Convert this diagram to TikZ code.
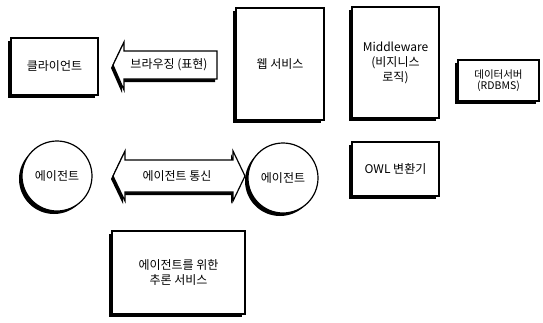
\documentclass[tikz,border=0pt]{standalone}
\usepackage{fontspec}
\setmainfont{Noto Sans CJK KR}
\usetikzlibrary{shadows}
\begin{document}
\begin{tikzpicture}[x=1pt,y=-1pt,
  shd/.style={drop shadow={shadow xshift=-3pt, shadow yshift=-3pt, opacity=1, fill=black}},
  box/.style={draw=black, line width=1.2pt, fill=white, shd, inner sep=0pt, align=center,
    font=\fontsize{12}{15}\selectfont},
  ball/.style={box, circle, minimum size=70pt},
  arr/.style={draw=black, line width=1.2pt, fill=white, line join=miter},
  lbl/.style={inner sep=0pt, align=center, font=\fontsize{12}{15}\selectfont}]
\useasboundingbox (0,0) rectangle (543,322);
% boxes
\node[box, minimum width=87pt, minimum height=57pt] (client) at (54.5,66.5) {클라이언트};
\node[box, minimum width=88pt, minimum height=112pt] (web) at (280,64) {웹 서비스};
\node[box, minimum width=87pt, minimum height=111pt] (mw) at (395.5,62.5) {Middleware\\(비지니스\\로직)};
\node[box, minimum width=81pt, minimum height=41pt, font=\fontsize{10.5}{11.5}\selectfont] (db) at (498.5,80.5) {데이터서버\\(RDBMS)};
\node[box, minimum width=87pt, minimum height=54pt] (owl) at (395.5,169) {OWL 변환기};
\node[box, minimum width=133pt, minimum height=83pt] (infer) at (178.5,272.5) {에이전트를 위한\\추론 서비스};
% circles
\node[ball] (agL) at (57,176) {에이전트};
\node[ball] (agR) at (283,178) {에이전트};
% browsing arrow (points left)
\fill[black, xshift=-2pt, yshift=-3pt] (113,65) -- (124,42) -- (124,51) -- (217,51) -- (217,79) -- (124,79) -- (124,90) -- cycle;
\draw[arr] (113,65) -- (124,42) -- (124,51) -- (217,51) -- (217,79) -- (124,79) -- (124,90) -- cycle;
\node[lbl] (browse) at (169,65) {브라우징 (표현)};
% agent communication double arrow
\fill[black, xshift=-2pt, yshift=-3pt] (113,176) -- (125,151) -- (125,160) -- (233,160) -- (233,151) -- (245,176) -- (233,201) -- (233,192) -- (125,192) -- (125,201) -- cycle;
\draw[arr] (113,176) -- (125,151) -- (125,160) -- (233,160) -- (233,151) -- (245,176) -- (233,201) -- (233,192) -- (125,192) -- (125,201) -- cycle;
\node[lbl] (comm) at (177,176) {에이전트 통신};
\end{tikzpicture}
\end{document}
